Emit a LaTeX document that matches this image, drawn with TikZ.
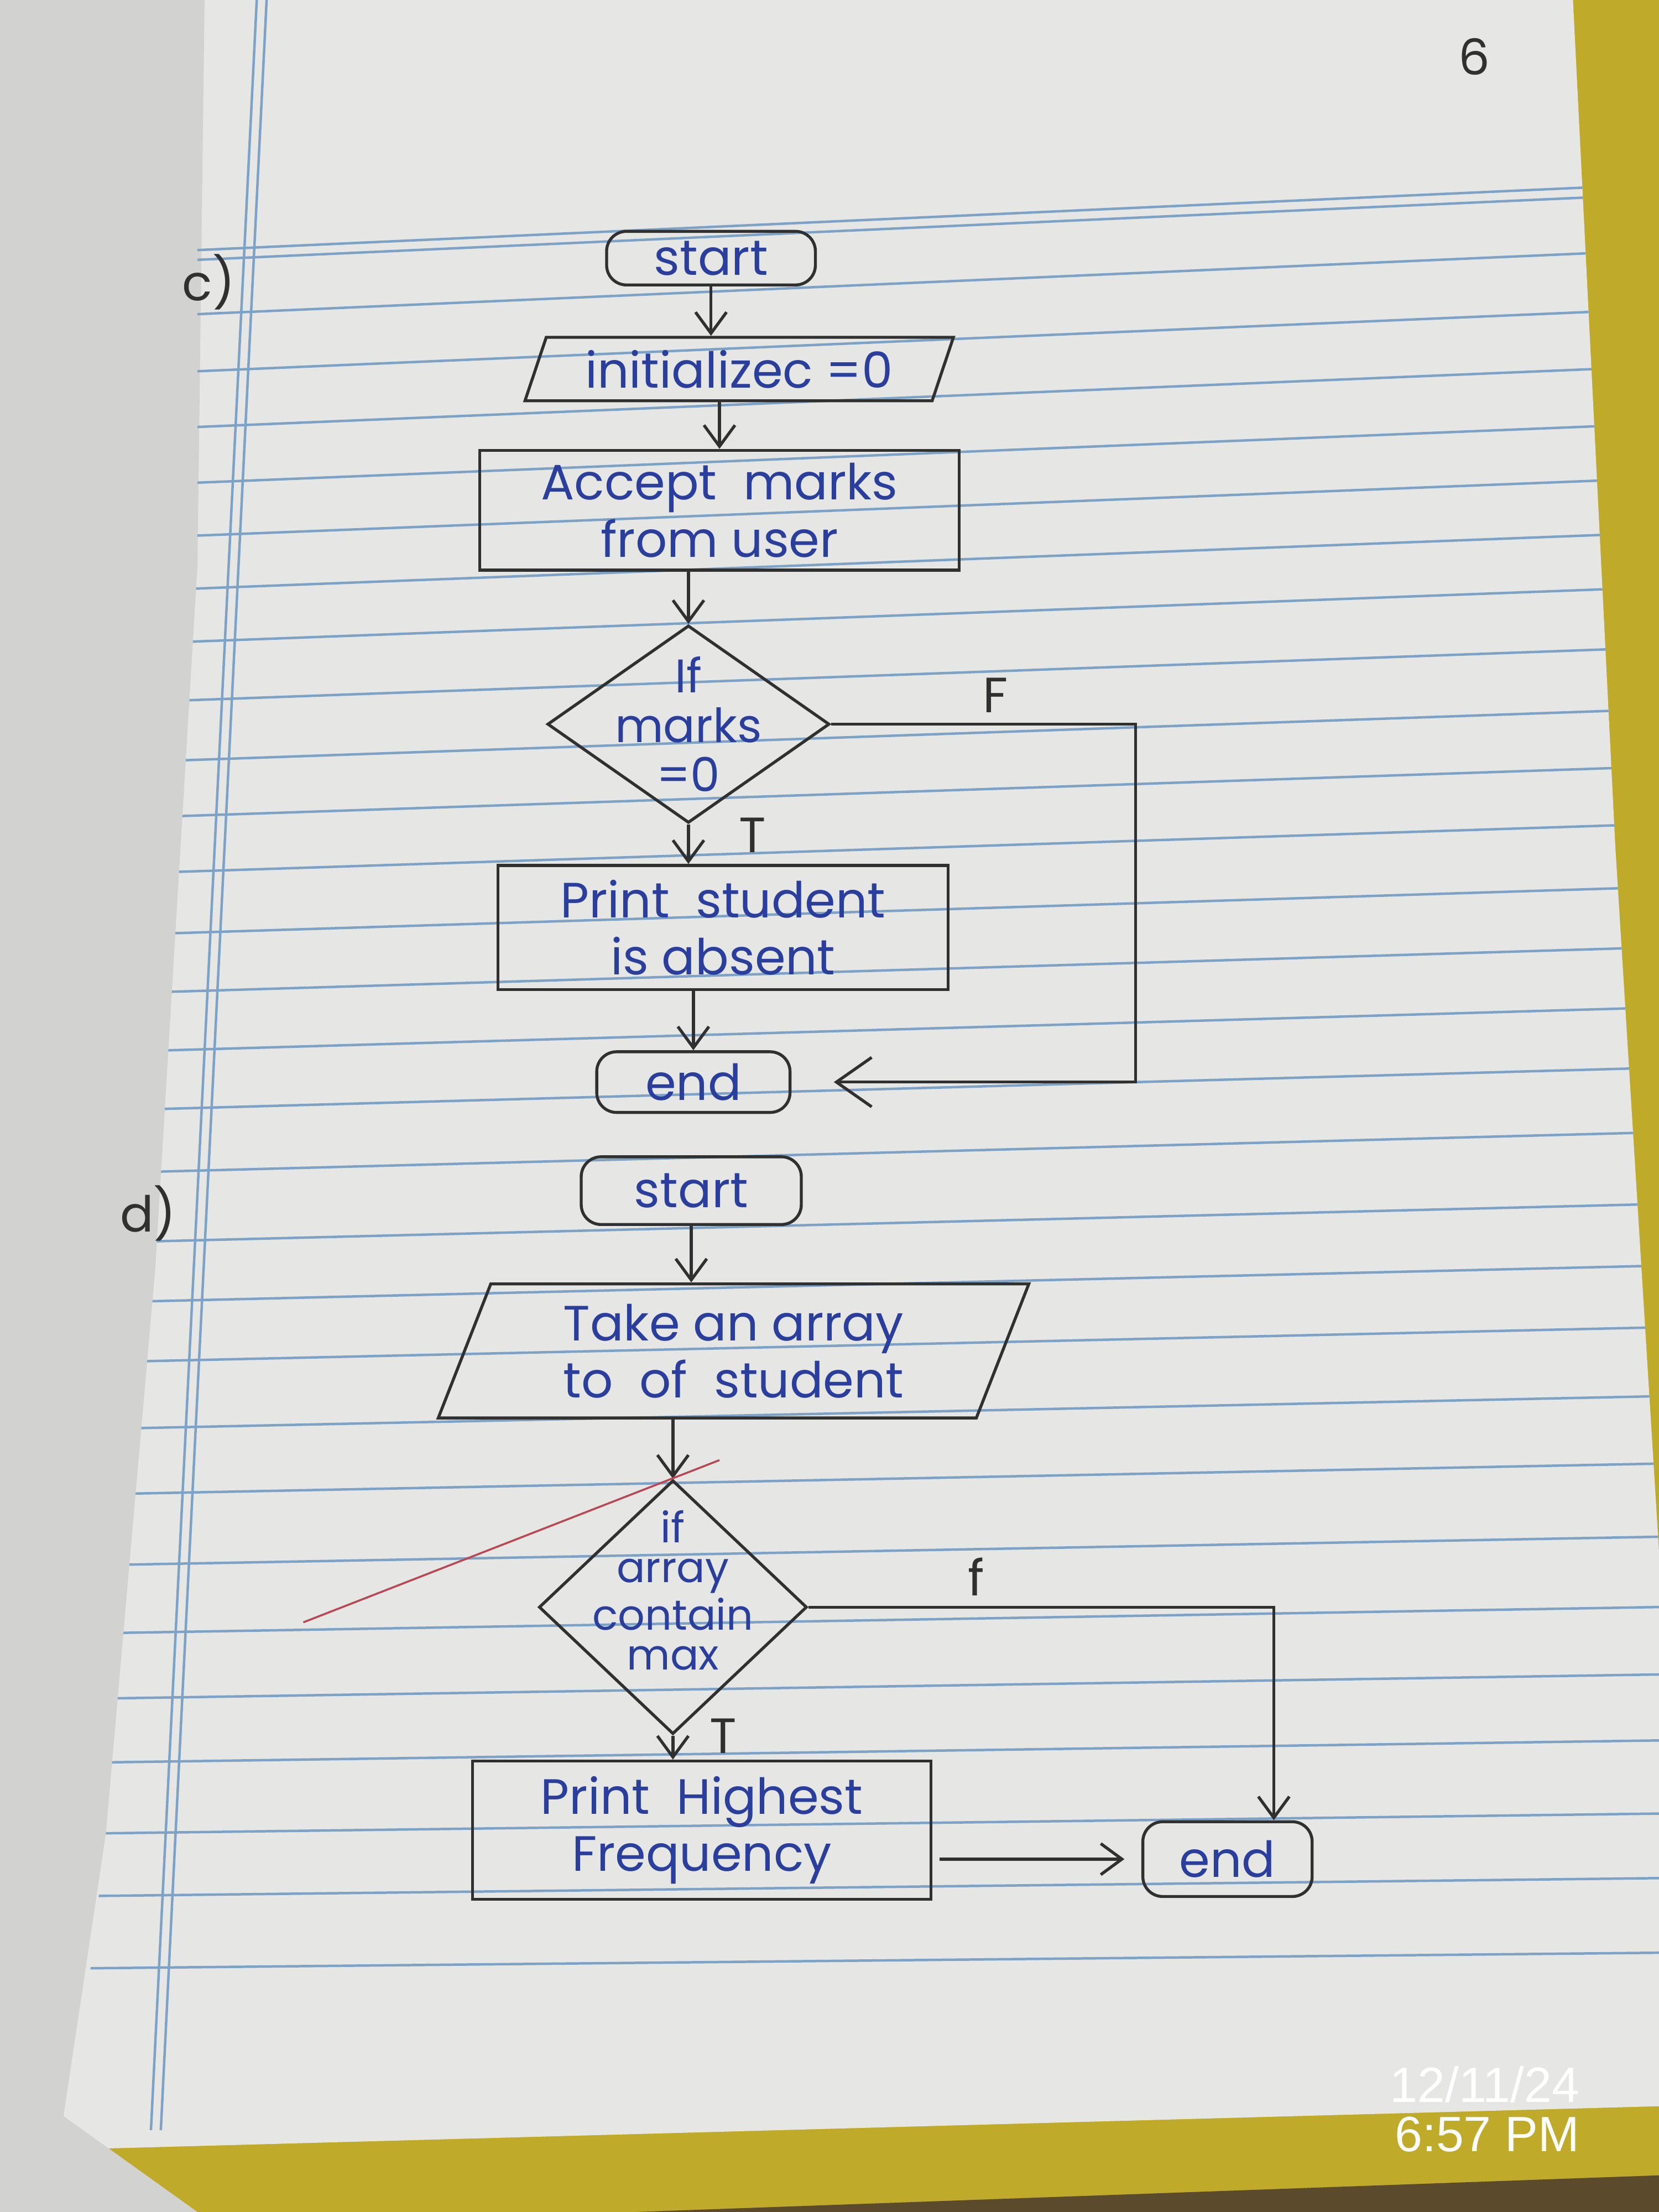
\documentclass[tikz,border=0pt]{standalone}
\usepackage{fontspec}
\setmainfont{Poppins}
\newfontfamily\stampfont{Liberation Sans}
\usetikzlibrary{shapes.geometric, arrows.meta, positioning, calc}

\definecolor{ink}{RGB}{42,62,158}
\definecolor{pencil}{RGB}{48,48,48}
\definecolor{paper}{RGB}{230,230,228}
\definecolor{leftpage}{RGB}{210,210,208}
\definecolor{rule}{RGB}{125,162,200}
\definecolor{board}{RGB}{192,170,42}
\definecolor{boarddark}{RGB}{92,74,44}
\definecolor{redpen}{RGB}{186,72,84}

\begin{document}
\begin{tikzpicture}[node distance=0.35cm, auto, font=\fontsize{10}{11.5}\selectfont]
    % Styles
    \tikzstyle{terminal} = [rectangle, draw=pencil, line width=0.6pt, rounded corners=4pt, text=ink, inner sep=1pt]
    \tikzstyle{io} = [trapezium, trapezium left angle=70, trapezium right angle=110, trapezium stretches=true, draw=pencil, line width=0.6pt, text=ink, align=center, inner sep=1pt]
    \tikzstyle{block} = [rectangle, draw=pencil, line width=0.6pt, text=ink, align=center, inner sep=1pt]
    \tikzstyle{decision} = [diamond, draw=pencil, line width=0.6pt, inner sep=0pt]
    \tikzstyle{dtext} = [text=ink, align=center, inner sep=0pt]
    \tikzstyle{note} = [text=pencil, inner sep=0pt]
    \tikzstyle{line} = [draw=pencil, line width=0.6pt, -{Straight Barb[length=1.5mm, width=2.2mm]}]

    % Paper
    \useasboundingbox (0,0) rectangle (11.76,-15.68);
    \fill [board] (0,0) rectangle (11.76,-15.68);
    \fill [boarddark] (4.5,-15.68) -- (11.76,-15.42) -- (11.76,-15.68) -- cycle;
    \fill [paper] (0,0) -- (11.15,0) -- (11.45,-6) -- (11.76,-11) -- (11.76,-14.93) -- (0,-15.25) -- cycle;
    \fill [leftpage] (0,0) -- (1.45,0) -- (1.40,-4) -- (1.10,-9) -- (0.75,-13) -- (0.45,-15.0) -- (1.40,-15.68) -- (0,-15.68) -- cycle;
    \begin{scope}
        \clip (1.40,0) -- (11.15,0) -- (11.45,-6) -- (11.76,-11) -- (11.76,-14.93) -- (0.5,-15.2) -- (0.75,-13) -- (1.10,-9) -- (1.40,-4) -- cycle;
        \foreach \y in {1.57,1.64,2.03,2.44,2.84,3.24,3.62,4.00,4.38,4.80,5.23,5.63,6.03,6.47,6.89,7.31,7.73,8.18,8.68,9.11,9.54,10.02,10.49,11.00,11.49,11.96,12.42,12.93,13.38,13.90}
            \draw [rule, line width=0.5pt] (0,{-\y-5.9*(0.045-0.00285*(\y-1.6))}) -- (11.76,{-\y+5.86*(0.045-0.00285*(\y-1.6))});
        \draw [rule, line width=0.5pt] (1.82,0) -- (1.07,-15.1);
        \draw [rule, line width=0.5pt] (1.89,0) -- (1.14,-15.1);
    \end{scope}

    % Chart c
    \node [terminal, minimum width=1.48cm, minimum height=0.38cm] (startc) at (5.04,-1.83) {start};
    \node [io, minimum width=3.05cm, minimum height=0.45cm, below=0.35cm of startc, xshift=0.20cm] (initc) {initializec =0};
    \node [block, minimum width=3.40cm, minimum height=0.85cm, below=0.33cm of initc, xshift=-0.14cm] (acceptc) {Accept\ \ marks\\from user};
    \node [decision, minimum width=2.0cm, minimum height=1.4cm, below=0.37cm of acceptc, xshift=-0.22cm] (diamc) {};
    \node [dtext, font=\fontsize{9.5}{10}\selectfont] at (diamc) {If\\marks\\=0};
    \node [block, minimum width=3.19cm, minimum height=0.88cm, below=0.28cm of diamc, xshift=0.245cm] (printc) {Print\ \ student\\is absent};
    \node [terminal, minimum width=1.37cm, minimum height=0.43cm, below=0.42cm of printc, xshift=-0.21cm] (endc) {end};

    \node [note] (labc) at (1.48,-2.00) {c)};
    \node [note] (pageno) at (10.45,-0.40) {6};
    \coordinate (cturn) at (8.05,-5.0);

    \path [line] (startc.south) -- (startc.south |- initc.north);
    \path [line] (initc.south -| acceptc.north) -- (acceptc.north);
    \path [line] (acceptc.south -| diamc.north) -- (diamc.north);
    \path [line] (diamc.south) -- node [note, pos=1, above right=2pt and 0.35cm] {T} (diamc.south |- printc.north);
    \path [line] (printc.south -| endc.north) -- (endc.north);
    \path [line, -{Straight Barb[length=2.5mm, width=3.5mm]}, shorten >=0.3cm] (diamc.east) -- node [note, pos=0.54, above=2pt] {F} (diamc.east -| cturn) |- (endc.east);

    % Chart d
    \node [terminal, minimum width=1.56cm, minimum height=0.48cm] (startd) at (4.90,-8.44) {start};
    \node [io, minimum width=4.20cm, minimum height=0.95cm, below=0.40cm of startd, xshift=0.30cm] (taked) {Take an array\\to\ \ of\ \ student};
    \node [decision, minimum width=1.90cm, minimum height=1.80cm, below=0.42cm of taked, xshift=-0.43cm] (diamd) {};
    \node [dtext, font=\fontsize{8.5}{8}\selectfont, yshift=0.12cm] at (diamd) {if\\array\\contain\\max};
    \node [block, minimum width=3.25cm, minimum height=0.98cm, below=0.17cm of diamd, xshift=0.205cm] (printd) {Print\ \ Highest\\Frequency};
    \node [terminal, minimum width=1.20cm, minimum height=0.53cm, right=1.48cm of printd, yshift=-0.205cm] (endd) {end};

    \node [note] (labd) at (1.05,-8.60) {d)};

    \path [line] (startd.south) -- (startd.south |- taked.north);
    \path [line] (taked.south -| diamd.north) -- (diamd.north);
    \path [line] (diamd.south) -- node [note, pos=1, above right=1pt and 0.25cm] {T} (diamd.south |- printd.north);
    \path [line] (diamd.east) -| node [note, pos=0.18, above=2pt] {f} (endd.40);
    \path [line, shorten <=0.05cm, shorten >=0.12cm] (endd.west -| printd.east) -- (endd.west);

    % Stray pen mark
    \draw [redpen, line width=0.4pt] (2.15,-11.50) -- (5.10,-10.35);

    % Camera stamp
    \node [text=white, font=\stampfont\fontsize{10}{10}\selectfont, align=right, anchor=east] (stamp) at (11.32,-14.95) {12/11/24\\6:57 PM};
\end{tikzpicture}
\end{document}
